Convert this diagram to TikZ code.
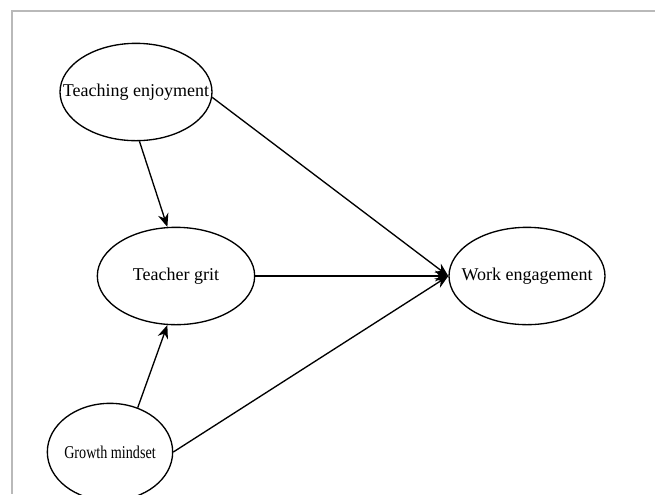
\documentclass[tikz,border=0pt]{standalone}
\usepackage{graphicx}
\usepackage{fontspec}
\setmainfont{Liberation Serif}
\usetikzlibrary{shapes.geometric}
\usetikzlibrary{arrows.meta}

\begin{document}
\begin{tikzpicture}[x=0.75pt, y=-0.75pt, font=\fontsize{13.5}{16}\selectfont]

        \useasboundingbox (0,0) rectangle (655,494);

        % Moldura
        \coordinate (topleft) at (12,11);
        \coordinate (topright) at (655,11);
        \coordinate (bottomleft) at (12,494);
        \draw[gray!55, line width=0.8pt] (topright) -- (topleft) -- (bottomleft);

        % Construtos
        \foreach \pos/\name/\largura/\txt in {{(136,92)/TE/114/Teaching enjoyment}, {(176,276)/TG/118/Teacher grit},
                                              {(527,276)/WE/117/Work engagement}, {(110,452)/GM/94/\scalebox{0.785}[1]{Growth mindset}}}
            \node[ellipse, draw, line width=1pt, inner xsep=-15pt, inner ysep=0pt, minimum width=\largura pt, minimum height=73pt] (\name) at \pos {\txt};

        % Caminhos
        \foreach \source/\target in {TE.-4/WE.west, TE.-86/TG.100, TG.east/WE.west, GM.58/TG.260, GM.east/WE.west}
            \draw[line width=1pt, -{Stealth[length=10pt, width=8pt]}] (\source) -- (\target);

    \end{tikzpicture}
\end{document}
